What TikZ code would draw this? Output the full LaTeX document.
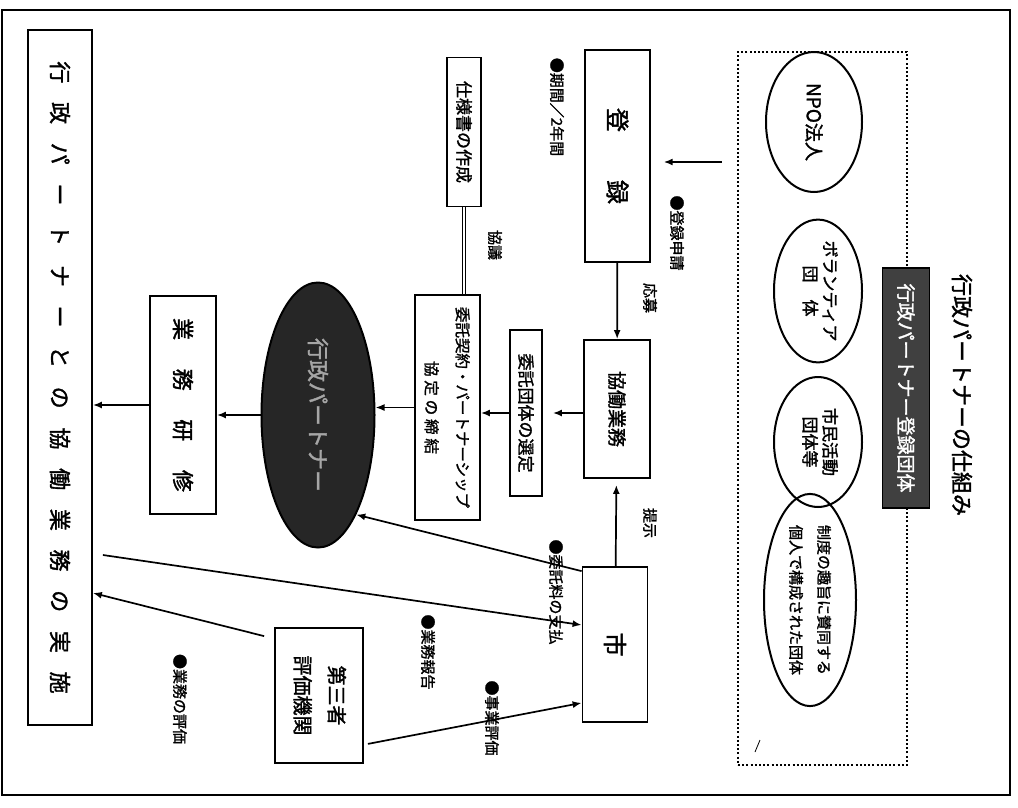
\documentclass[tikz,border=0pt]{standalone}
\usepackage{fontspec}
\setmainfont{Noto Sans CJK JP}[FakeBold=1.6]
\usetikzlibrary{arrows.meta,shapes.geometric}
\newcommand{\VT}[1]{\rotatebox{-90}{#1}}
\newcommand{\VL}[2]{\rotatebox{-90}{\begin{tabular}{@{}c@{}}#1\\#2\end{tabular}}}
\begin{document}
\begin{tikzpicture}[x=1pt,y=-1pt,
  box/.style={draw, line width=1.8pt, inner sep=0pt, align=center},
  oval/.style={draw, ellipse, line width=2pt, inner sep=0pt, align=center},
  arr/.style={line width=1.7pt, -{Latex[length=9pt,width=7pt]}},
  lbl/.style={inner sep=0pt, font=\fontsize{15}{17}\selectfont},
  f24/.style={font=\fontsize{24}{26}\selectfont},
  f22/.style={font=\fontsize{22}{24}\selectfont},
  f19/.style={font=\fontsize{19}{21}\selectfont},
  f17/.style={font=\fontsize{17}{19}\selectfont},
]
\useasboundingbox (0,0) rectangle (1018,807);
\draw[line width=1.5pt] (2,10) rectangle (1010,795);

% title
\node[f22, inner sep=0pt] (title) at (962,395) {\VT{行政パートナーの仕組み}};

% group box
\node[draw, line width=2.6pt, dash pattern=on 2pt off 2.2pt, minimum width=169pt, minimum height=713pt, inner sep=0pt] (grp) at (822.5,408.5) {};
\node[box, fill=black!75, text=white, minimum width=47pt, minimum height=240pt, f19] (tb) at (906,388) {\VT{行政パートナー登録団体}};

\node[oval, minimum width=96pt, minimum height=140pt, f19] (e1) at (814,122) {\VT{NPO法人}};
\node[oval, minimum width=88pt, minimum height=128pt, f17] (e2) at (818,291) {\VL{ボランティア}{団\hspace{1em}体}};
\node[oval, minimum width=88pt, minimum height=130pt, f17] (e3) at (818,442) {\VL{市民活動}{団体等}};
\node[oval, minimum width=92pt, minimum height=130pt, font=\fontsize{15}{28}\selectfont] (e4) at (810,600) {\VL{制度の趣旨に賛同する}{個人で構成された団体}};
\draw[line width=0.8pt] (755,752) -- (760,740);

% boxes
\node[box, minimum width=65pt, minimum height=212pt, f24] (reg) at (617.5,156) {\VT{登\hspace{2em}録}};
\node[box, minimum width=34pt, minimum height=149pt, f17] (shiyo) at (464,132) {\VT{仕様書の作成}};
\node[box, minimum width=66pt, minimum height=138pt, f19] (kyodo) at (617,409) {\VT{協働業務}};
\node[box, minimum width=32pt, minimum height=166pt, f17] (sentei) at (526,413) {\VT{委託団体の選定}};
\node[box, minimum width=65pt, minimum height=225pt, font=\fontsize{15.5}{31}\selectfont] (keiyaku) at (447.5,407.5) {\VL{委託契約・パートナーシップ}{\addfontfeature{LetterSpace=25}協定の締結}};
\node[draw, ellipse, line width=2pt, fill=black!85, text=black!35, minimum width=113pt, minimum height=265pt, inner sep=0pt, f22] (yell) at (318,415) {\VT{行政パートナー}};
\node[box, minimum width=66pt, minimum height=218pt, f22] (kenshu) at (183,405) {\VT{業\hspace{1.3em}務\hspace{1.3em}研\hspace{1.3em}修}};
\node[box, minimum width=64pt, minimum height=695pt, f22] (big) at (60,377.5) {\VT{\addfontfeature{LetterSpace=85}行政パートナーとの協働業務の実施}};
\node[box, minimum width=65pt, minimum height=155pt, f24] (shi) at (615,644.5) {\VT{市}};
\node[box, minimum width=88pt, minimum height=135pt, font=\fontsize{20}{34}\selectfont] (sansha) at (319,695.5) {\VL{第三者}{評価機関}};

% connectors
\draw[arr] ([xshift=-15pt,yshift=-6pt]grp.west |- reg) -- ([xshift=-73pt,yshift=-6pt]grp.west |- reg);
\draw[arr] (reg) -- (kyodo);
\draw[arr, shorten >=6pt] (shi) -- (kyodo);
\draw[arr, shorten >=10pt] (kyodo.west |- sentei) -- (sentei.east);
\draw[arr] (sentei.west) -- (sentei.west -| keiyaku.east);
\draw[arr] (keiyaku.west) -- (keiyaku.west -| yell.east);
\draw[arr] (yell.west) -- (yell.west -| kenshu.east);
\draw[arr] (kenshu.west) -- (kenshu.west -| big.east);
\draw[line width=1.2pt, double, double distance=2pt] (shiyo.south) -- (shiyo.south |- keiyaku.north);
\draw[arr] ([yshift=-5pt]shi.north west) -- (yell.-69);
\draw[arr] ([xshift=10pt,yshift=-177.5pt]big.east) -- ([yshift=19.5pt]shi.west);
\draw[arr] ([xshift=-10pt,yshift=-9pt]sansha.north west) -- ([yshift=-215.5pt]big.east);
\draw[arr] ([xshift=4pt,yshift=20pt]sansha.south east) -- ([yshift=20pt]shi.south west);

% labels
\node[lbl] (l1) at (677,233) {\VT{●登録申請}};
\node[lbl] (l2) at (557,107) {\VT{●期間／2年間}};
\node[lbl] (l3) at (650,298) {\VT{応募}};
\node[lbl] (l4) at (495,245) {\VT{協議}};
\node[lbl] (l5) at (650,523) {\VT{提示}};
\node[lbl] (l6) at (556,592) {\VT{●委託料の支払}};
\node[lbl] (l7) at (428,652) {\VT{●業務報告}};
\node[lbl] (l8) at (492,718) {\VT{●事業評価}};
\node[lbl] (l9) at (180,699) {\VT{●業務の評価}};
\end{tikzpicture}
\end{document}
